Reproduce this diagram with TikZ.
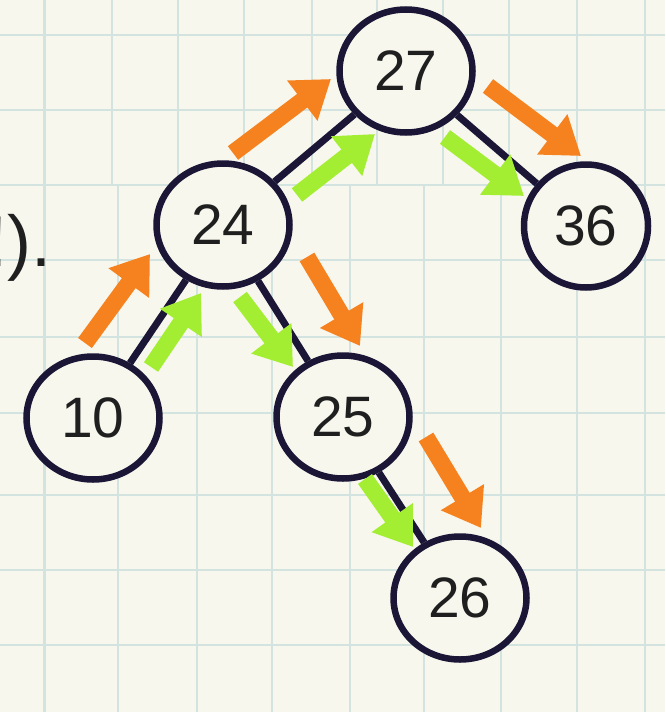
\documentclass[tikz,border=0pt]{standalone}
\usepackage{fontspec}
\setmainfont{Liberation Sans}
\usetikzlibrary{arrows.meta,shapes.geometric}
\definecolor{paper}{HTML}{F8F7EE}
\definecolor{gridline}{HTML}{D3E3DF}
\definecolor{inkblue}{HTML}{1B1536}
\definecolor{walkorange}{HTML}{F5821F}
\definecolor{walkgreen}{HTML}{A3EE33}
\tikzset{key/.style={ellipse, draw=inkblue, line width=6.5pt, fill=paper, minimum width=133pt, minimum height=123pt, inner sep=0pt, text=black!88, font=\fontsize{57}{57}\selectfont}}
\tikzset{treeedge/.style={draw=inkblue, line width=7pt}}
\tikzset{gridrule/.style={draw=gridline, line width=2.5pt}}
\tikzset{walk/.style={line width=17pt, -{Triangle[length=36pt,width=48pt]}}}

\begin{document}
\begin{tikzpicture}[x=1pt, y=-1pt]
\useasboundingbox (0,0) rectangle (665,712);
\fill[paper] (0,0) rectangle (665,712);
% squared paper
\foreach \gy in {35,110,185,260,337,413,495,570,645} \draw[gridrule] (0,\gy) -- (665,\gy);
\foreach \gx in {44.5,112,178,244,312,377,443,509,577,645} \draw[gridrule] (\gx,0) -- (\gx,185);
\foreach \gx in {44.5,118,197,272,350,424,501,577,645} \draw[gridrule] (\gx,185) -- (\gx,712);
\node[anchor=base east, inner sep=0pt, text=black!88, font=\fontsize{72}{72}\selectfont] (aside) at (52,266) {!).};
% tree
\node[key] (k27) at (406,71) {27};
\node[key] (k24) at (223,225) {24};
\node[key, minimum width=124pt] (k36) at (586,226) {36};
\node[key] (k10) at (93,418) {10};
\node[key] (k25) at (343,417) {25};
\node[key] (k26) at (460,598) {26};
\draw[treeedge] (k27) -- (k24);
\draw[treeedge] (k27) -- (k36);
\draw[treeedge] (k24) -- (k10);
\draw[treeedge] (k24) -- (k25);
\draw[treeedge] (k25) -- (k26);
% walk ends
\coordinate (o10a) at (85,343);   \coordinate (o10b) at (150,254);
\coordinate (g10a) at (151,367);  \coordinate (g10b) at (201,293);
\coordinate (o24a) at (233,153);  \coordinate (o24b) at (331,79);
\coordinate (g24a) at (297,195);  \coordinate (g24b) at (375,134);
\coordinate (o36a) at (488,86);   \coordinate (o36b) at (581,156);
\coordinate (g36a) at (445,137);  \coordinate (g36b) at (524,196);
\coordinate (g25a) at (240,297);  \coordinate (g25b) at (293,367);
\coordinate (o25a) at (307,257);  \coordinate (o25b) at (360,346);
\coordinate (g26a) at (365,479);  \coordinate (g26b) at (413,547);
\coordinate (o26a) at (426,437);  \coordinate (o26b) at (481,528);
\draw[walk, walkorange] (o10a) -- (o10b);
\draw[walk, walkgreen] (g10a) -- (g10b);
\draw[walk, walkorange] (o24a) -- (o24b);
\draw[walk, walkgreen] (g24a) -- (g24b);
\draw[walk, walkorange] (o36a) -- (o36b);
\draw[walk, walkgreen] (g36a) -- (g36b);
\draw[walk, walkgreen] (g25a) -- (g25b);
\draw[walk, walkorange] (o25a) -- (o25b);
\draw[walk, walkgreen] (g26a) -- (g26b);
\draw[walk, walkorange] (o26a) -- (o26b);
\end{tikzpicture}
\end{document}
